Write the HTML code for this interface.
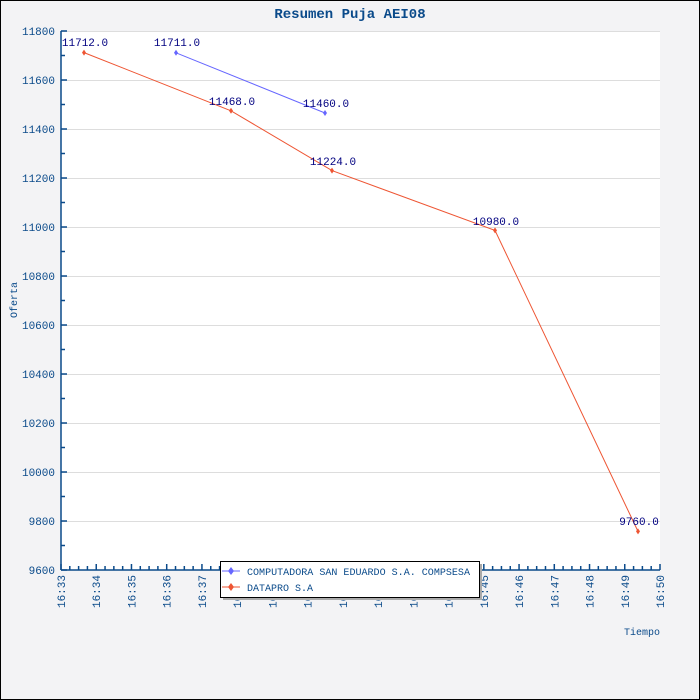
<!DOCTYPE html>
<html><head><meta charset="utf-8"><style>
body{margin:0;background:#fff}
svg{display:block}
text{font-family:"Liberation Mono","DejaVu Sans Mono",monospace}
</style></head><body>
<svg width="700" height="700" xmlns="http://www.w3.org/2000/svg">
<rect x="0.5" y="0.5" width="699" height="699" fill="#f3f3f5" stroke="#000"/>
<rect x="61" y="31" width="599" height="539" fill="#fff"/>
<text x="350" y="18" text-anchor="middle" font-size="14" font-weight="bold" fill="#0a4a8a">Resumen Puja AEI08</text>
<g stroke="#ddd" stroke-width="1">
<line x1="61" x2="660" y1="80.5" y2="80.5"/><line x1="61" x2="660" y1="129.5" y2="129.5"/>
<line x1="61" x2="660" y1="178.5" y2="178.5"/><line x1="61" x2="660" y1="227.5" y2="227.5"/>
<line x1="61" x2="660" y1="276.5" y2="276.5"/><line x1="61" x2="660" y1="325.5" y2="325.5"/>
<line x1="61" x2="660" y1="374.5" y2="374.5"/><line x1="61" x2="660" y1="423.5" y2="423.5"/>
<line x1="61" x2="660" y1="472.5" y2="472.5"/><line x1="61" x2="660" y1="521.5" y2="521.5"/>
<line x1="61" x2="660" y1="31.5" y2="31.5"/>
</g>
<g id="ax" stroke="#0a4a8a" stroke-width="1.5" fill="none"></g>
<g id="lbl" font-size="11" fill="#0a4a8a"></g>
<text x="17" y="300" font-size="10" fill="#0a4a8a" text-anchor="middle" transform="rotate(-90 17 300)">Oferta</text>
<text x="660" y="635" font-size="10" fill="#0a4a8a" text-anchor="end">Tiempo</text>
<polyline points="176,52.8 325,113" fill="none" stroke="#6666ff" stroke-width="1"/>
<polyline points="84,52.6 231,110.8 332,170.6 495,230.4 638,531.4" fill="none" stroke="#ee5533" stroke-width="1"/>
<g fill="#6666ff"><path d="M176 49.8l2 3-2 3-2-3z"/><path d="M325 110l2 3-2 3-2-3z"/></g>
<g fill="#ee5533"><path d="M84 49.6l2 3-2 3-2-3z"/><path d="M231 107.8l2 3-2 3-2-3z"/><path d="M332 167.6l2 3-2 3-2-3z"/><path d="M495 227.4l2 3-2 3-2-3z"/><path d="M638 528.4l2 3-2 3-2-3z"/></g>
<g font-size="11" fill="#000080" text-anchor="middle">
<text x="85" y="46">11712.0</text><text x="177" y="46">11711.0</text><text x="326" y="107">11460.0</text>
<text x="232" y="105">11468.0</text><text x="333" y="165">11224.0</text><text x="496" y="225">10980.0</text><text x="639" y="525">9760.0</text>
</g>
<rect x="223" y="564" width="259" height="36" fill="#aaa"/>
<rect x="220.5" y="561.5" width="259" height="36" fill="#fff" stroke="#000"/>
<line x1="222" x2="240" y1="571" y2="571" stroke="#6666ff"/><path d="M231 567l3 4-3 4-3-4z" fill="#6666ff"/>
<line x1="222" x2="240" y1="587" y2="587" stroke="#ee5533"/><path d="M231 583l3 4-3 4-3-4z" fill="#ee5533"/>
<text x="247" y="575" font-size="10" fill="#0a4a8a" textLength="223" lengthAdjust="spacingAndGlyphs">COMPUTADORA SAN EDUARDO S.A. COMPSESA</text>
<text x="247" y="591" font-size="10" fill="#0a4a8a" textLength="66" lengthAdjust="spacingAndGlyphs">DATAPRO S.A</text>
</svg>
<script>
var ax=document.getElementById('ax'),lb=document.getElementById('lbl'),ns="http://www.w3.org/2000/svg";
function el(p,t,a,s){var e=document.createElementNS(ns,t);for(var k in a)e.setAttribute(k,a[k]);if(s)e.textContent=s;p.appendChild(e);}
el(ax,'line',{x1:61,x2:61,y1:31,y2:570});el(ax,'line',{x1:61,x2:660,y1:570,y2:570});
for(var i=0;i<=22;i++){var y=570-i*24.5;el(ax,'line',{x1:61,x2:i%2?65:67,y1:y,y2:y});
if(i%2==0)el(lb,'text',{x:55,y:y+4,'text-anchor':'end'},String(9600+i*100));}
for(var i=0;i<=68;i++){var x=61+i*599/68;el(ax,'line',{x1:x,x2:x,y1:570,y2:i%4?566:564});
if(i%4==0){var m=33+i/4;el(lb,'text',{x:0,y:0,'text-anchor':'end',transform:'translate('+(x+4)+',575) rotate(-90)'},'16:'+m);}}
</script>
</body></html>
